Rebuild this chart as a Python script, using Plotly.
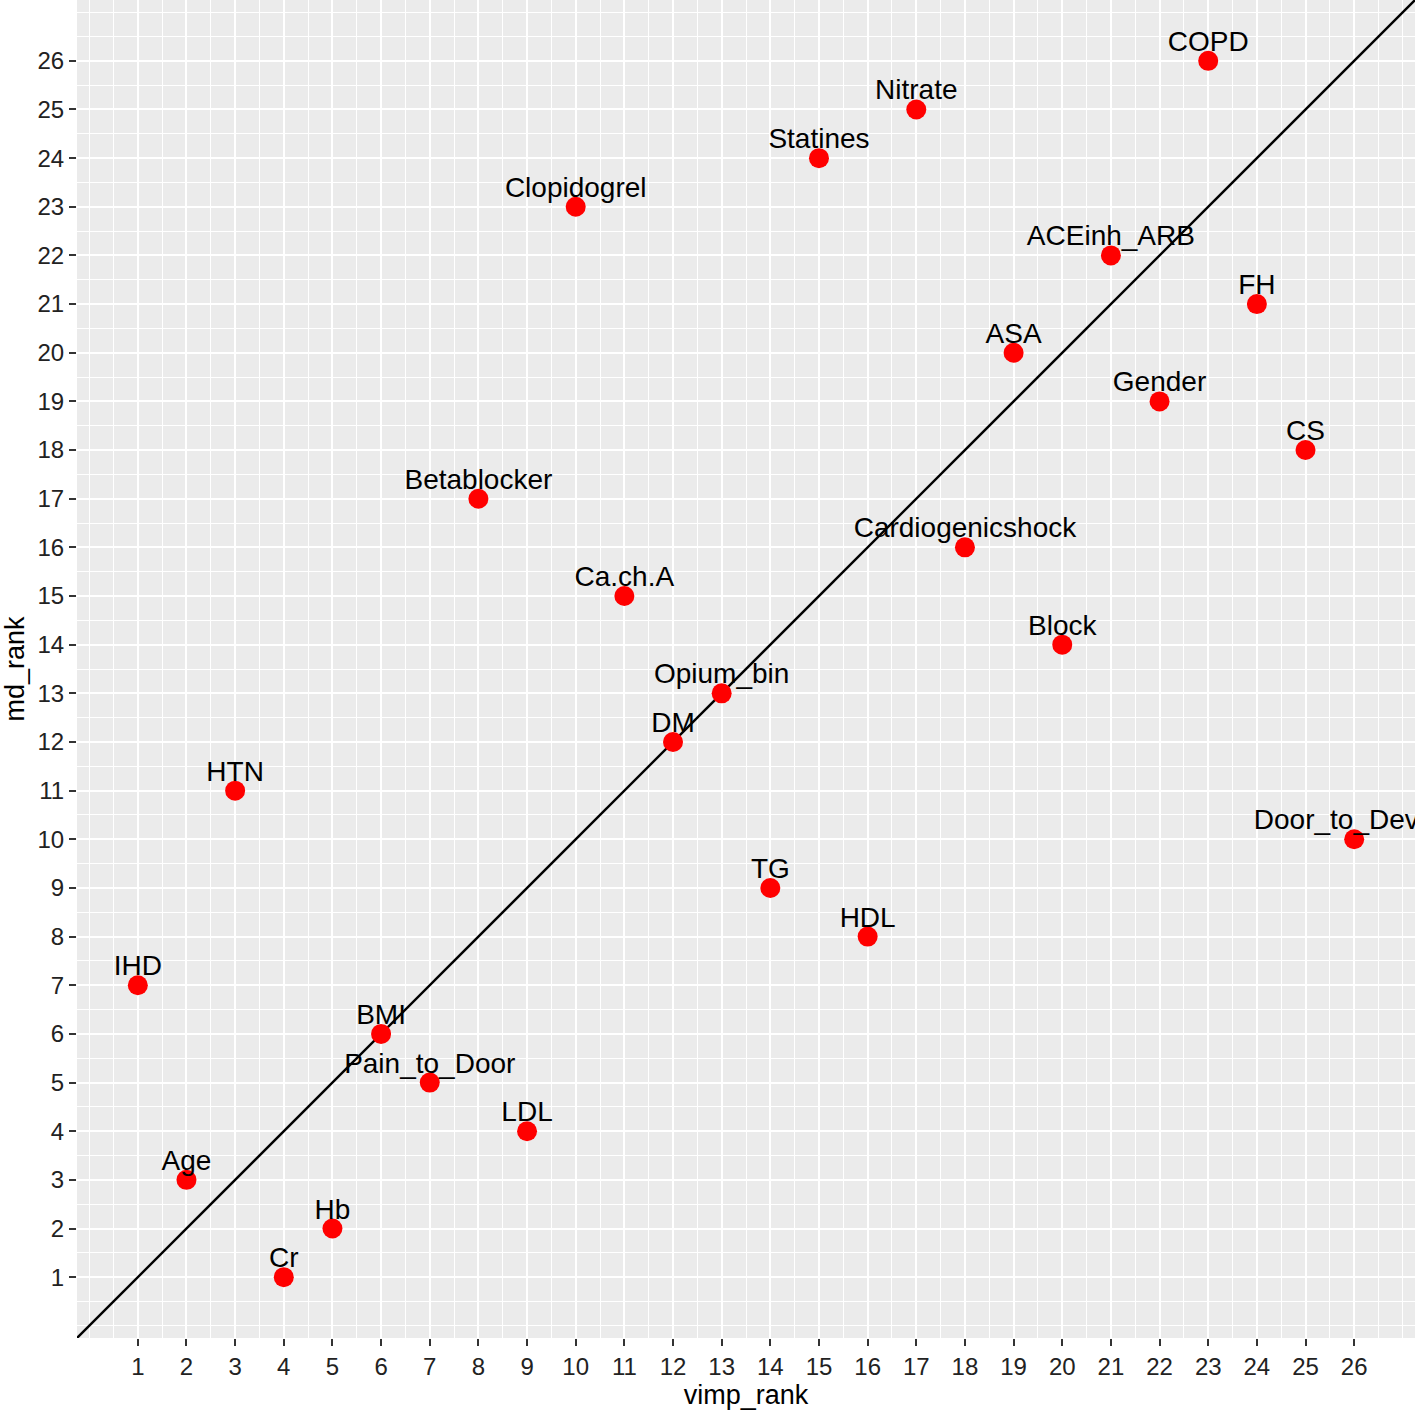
import plotly.graph_objects as go

labels = ["IHD", "Age", "HTN", "Cr", "Hb", "BMI", "Pain_to_Door", "Betablocker", "LDL",
          "Clopidogrel", "Ca.ch.A", "DM", "Opium_bin", "TG", "Statines", "HDL", "Nitrate",
          "Cardiogenicshock", "ASA", "Block", "ACEinh_ARB", "Gender", "COPD", "FH", "CS",
          "Door_to_Device"]
vimp_rank = list(range(1, 27))
md_rank = [7, 3, 11, 1, 2, 6, 5, 17, 4, 23, 15, 12, 13, 9, 24, 8, 25, 16, 20, 14, 22, 19,
           26, 21, 18, 10]
tick_vals = list(range(1, 27))

lo_data, hi_data = 1, 26
pad = 0.05 * (hi_data - lo_data)
rng = [lo_data - pad, hi_data + pad]
minor_vals = [0] + [v + 0.5 for v in range(0, 27)] + [27]
label_nudge = 0.35

fig = go.Figure()
fig.add_trace(go.Scatter(x=rng, y=rng, mode="lines",
                         line=dict(color="black", width=2.4), hoverinfo="skip",
                         showlegend=False))
fig.add_trace(go.Scatter(x=vimp_rank, y=md_rank, mode="markers",
                         marker=dict(color="#FF0000", size=20, line=dict(width=0)),
                         showlegend=False))
fig.add_trace(go.Scatter(x=vimp_rank, y=[v + label_nudge for v in md_rank], mode="text",
                         text=labels, textposition="middle center",
                         textfont=dict(family="Liberation Sans", size=28, color="black"),
                         cliponaxis=True, showlegend=False))

axis_common = dict(
    tickmode="array", tickvals=tick_vals, ticktext=[str(v) for v in tick_vals],
    showgrid=True, gridcolor="white", gridwidth=2.4, zeroline=False,
    ticks="outside", ticklen=7, tickwidth=2, tickcolor="#333333",
    tickfont=dict(family="Liberation Sans", size=24, color="#222222"),
    showline=False,
    minor=dict(tickmode="array", tickvals=minor_vals, showgrid=True,
               gridcolor="white", gridwidth=1.2, ticks=""),
    range=rng,
)

fig.update_layout(
    width=1416, height=1410,
    margin=dict(l=77, r=1, t=0, b=72),
    paper_bgcolor="white", plot_bgcolor="#EBEBEB",
    xaxis=dict(**axis_common,
               title=dict(text="vimp_rank", standoff=4,
                          font=dict(family="Liberation Sans", size=27, color="black"))),
    yaxis=dict(**axis_common,
               title=dict(text="md_rank", standoff=8,
                          font=dict(family="Liberation Sans", size=27, color="black"))),
    font=dict(family="Liberation Sans"),
)

fig.write_html("out.html", config={"displayModeBar": False},
               post_script="document.body.style.margin='0';document.body.style.overflow='hidden';")
